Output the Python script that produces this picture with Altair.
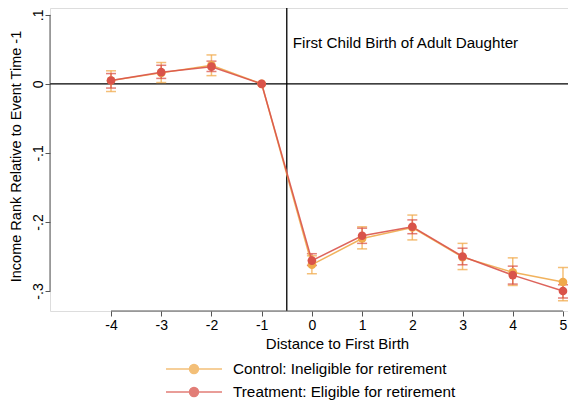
import altair as alt
import pandas as pd

# event time relative to first birth
event_time = [-4, -3, -2, -1, 0, 1, 2, 3, 4, 5]

control_label = "Control: Ineligible for retirement"
treat_label = "Treatment: Eligible for retirement"

control_est = [0.005, 0.016, 0.027, 0.0, -0.262, -0.224, -0.208, -0.251, -0.273, -0.287]
control_lo = [-0.011, 0.002, 0.012, None, -0.275, -0.239, -0.226, -0.269, -0.292, -0.314]
control_hi = [0.019, 0.031, 0.042, None, -0.249, -0.207, -0.190, -0.231, -0.252, -0.266]

treat_est = [0.005, 0.017, 0.025, 0.0, -0.256, -0.220, -0.207, -0.250, -0.277, -0.300]
treat_lo = [-0.006, 0.008, 0.018, None, -0.263, -0.231, -0.217, -0.262, -0.290, -0.310]
treat_hi = [0.015, 0.027, 0.033, None, -0.246, -0.209, -0.197, -0.238, -0.264, -0.291]

y_ticks = [-0.3, -0.2, -0.1, 0.0, 0.1]
x_ticks = event_time
x_domain = [-5.215, 5.10]
y_domain = [-0.329, 0.110]
event_line = -0.5
note = "First Child Birth of Adult Daughter"
note_y = 0.059

colors = ["#F0AA4B", "#D9534A"]
font = "Liberation Sans"

rows = []
for grp, est, lo, hi in [
    (control_label, control_est, control_lo, control_hi),
    (treat_label, treat_est, treat_lo, treat_hi),
]:
    for t, e, l, h in zip(event_time, est, lo, hi):
        rows.append({"group": grp, "t": t, "est": e, "lo": l, "hi": h})
df = pd.DataFrame(rows)
ci = df.dropna(subset=["lo", "hi"])

xs = alt.Scale(domain=x_domain, nice=False, zero=False)
ys = alt.Scale(domain=y_domain, nice=False, zero=False)

# line with a dot in the middle, like the Stata legend keys
legend_symbol = "M-4,0H4M-0.64,0A0.64,0.64,0,1,0,0.64,0A0.64,0.64,0,1,0,-0.64,0Z"
legend = alt.Legend(
    title=None,
    orient="none",
    legendX=136,
    legendY=353,
    symbolType=legend_symbol,
    symbolSize=196,
    symbolStrokeWidth=1.5,
    labelOffset=31,
    rowPadding=6,
    labelFontSize=15.3,
    labelFont=font,
    labelColor="black",
    labelLimit=0,
    padding=0,
)
grp_scale = alt.Scale(domain=[control_label, treat_label], range=colors)
fill_enc = alt.Fill("group:N", scale=grp_scale, legend=legend)
stroke_enc = alt.Stroke("group:N", scale=grp_scale, legend=legend)

x_axis = alt.Axis(
    values=x_ticks,
    domain=False,
    grid=False,
    tickSize=5,
    tickColor="#555555",
    labelFontSize=14,
    labelFont=font,
    labelColor="black",
    labelPadding=2,
    labelExpr="'' + datum.value",
    title="Distance to First Birth",
    titleFontSize=15,
    titleFont=font,
    titleFontWeight="normal",
    titleColor="black",
    titleX=287,
    titleY=32,
    titleBaseline="middle",
    titleAlign="center",
)
y_axis = alt.Axis(
    values=y_ticks,
    domain=False,
    grid=False,
    tickSize=5,
    tickColor="#555555",
    labelFontSize=14,
    labelFont=font,
    labelColor="black",
    labelAngle=270,
    labelAlign="center",
    labelBaseline="alphabetic",
    labelPadding=3,
    labelExpr="datum.value == 0 ? '0' : replace('' + datum.value, '0.', '.')",
    title="Income Rank Relative to Event Time -1",
    titleFontSize=14.5,
    titleFont=font,
    titleFontWeight="normal",
    titleColor="black",
    titleAngle=270,
    titleX=-34,
    titleY=148,
    titleBaseline="middle",
    titleAlign="center",
)

base = alt.Chart(df)

lines = base.mark_line(strokeWidth=1.5, opacity=0.9).encode(
    x=alt.X("t:Q", scale=xs, axis=x_axis),
    y=alt.Y("est:Q", scale=ys, axis=y_axis),
    stroke=stroke_enc,
    detail="group:N",
)

bars = alt.Chart(ci).mark_rule(strokeWidth=1.5, opacity=0.75).encode(
    x="t:Q", y="lo:Q", y2="hi:Q", stroke=stroke_enc
)
cap_lo = alt.Chart(ci).mark_tick(orient="horizontal", size=10, thickness=1.5, opacity=0.75).encode(
    x="t:Q", y="lo:Q", fill=fill_enc
)
cap_hi = alt.Chart(ci).mark_tick(orient="horizontal", size=10, thickness=1.5, opacity=0.75).encode(
    x="t:Q", y="hi:Q", fill=fill_enc
)
points = base.mark_point(filled=True, size=75, opacity=1, strokeWidth=0).encode(
    x="t:Q", y="est:Q", fill=fill_enc
)

zero_line = alt.Chart(pd.DataFrame({"y": [0.0]})).mark_rule(color="black", strokeWidth=1.3).encode(y="y:Q")
event_rule = alt.Chart(pd.DataFrame({"x": [event_line]})).mark_rule(color="black", strokeWidth=1.3).encode(x="x:Q")

note_text = alt.Chart(pd.DataFrame({"x": [event_line], "y": [note_y], "label": [note]})).mark_text(
    align="left", baseline="middle", dx=6, fontSize=15.2, font=font, color="black"
).encode(x="x:Q", y="y:Q", text="label:N")

# Stata-style axis lines that only span the tick range
y_axis_line = alt.Chart(
    pd.DataFrame({"x": [x_domain[0]], "y": [y_ticks[0]], "y2": [y_ticks[-1]]})
).mark_rule(color="#555555", strokeWidth=1).encode(x="x:Q", y="y:Q", y2="y2:Q")
x_axis_line = alt.Chart(
    pd.DataFrame({"y": [y_domain[0]], "x": [x_ticks[0]], "x2": [x_ticks[-1]]})
).mark_rule(color="#555555", strokeWidth=1).encode(y="y:Q", x="x:Q", x2="x2:Q")

chart = (
    alt.layer(
        zero_line, event_rule, y_axis_line, x_axis_line, note_text,
        bars, cap_lo, cap_hi, lines, points,
    )
    .properties(
        width=518,
        height=303,
        autosize=alt.AutoSizeParams(type="none"),
        padding={"left": 42, "top": 0, "right": 0, "bottom": 89},
    )
    .configure_view(stroke=None)
    .configure(background="white")
)

chart.save("out.html", embed_options={"renderer": "svg", "actions": False})
